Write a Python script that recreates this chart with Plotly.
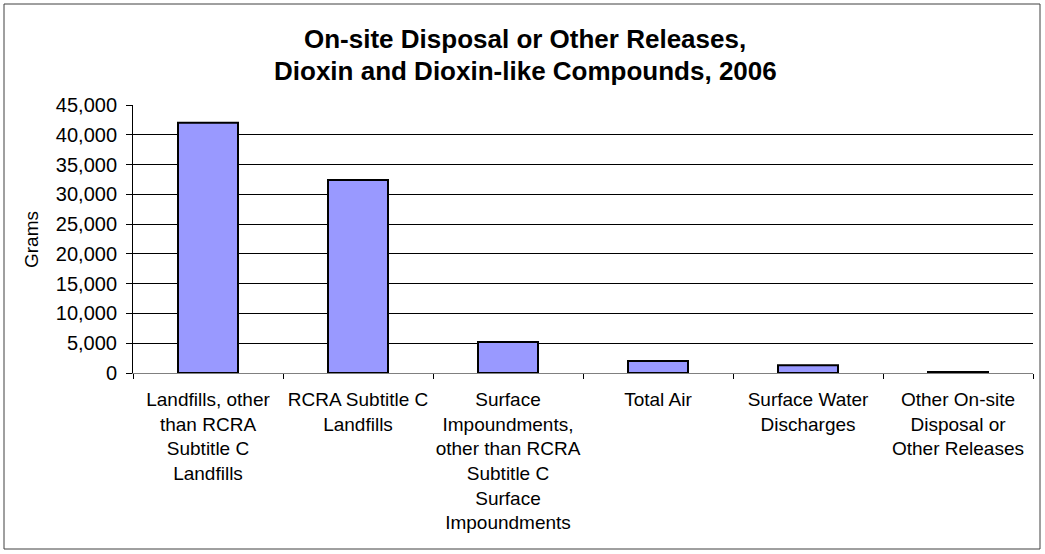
import plotly.graph_objects as go

categories = [
    "Landfills, other<br>than RCRA<br>Subtitle C<br>Landfills",
    "RCRA Subtitle C<br>Landfills",
    "Surface<br>Impoundments,<br>other than RCRA<br>Subtitle C<br>Surface<br>Impoundments",
    "Total Air",
    "Surface Water<br>Discharges",
    "Other On-site<br>Disposal or<br>Other Releases",
]
grams = [42000, 32400, 5200, 2000, 1300, 150]
title_lines = ["On-site Disposal or Other Releases,", "Dioxin and Dioxin-like Compounds, 2006"]
y_title = "Grams"
y_ticks = list(range(0, 45001, 5000))

W, H = 1045, 554
L, R, T, B = 133, 12, 105, 181
pw, ph = W - L - R, H - T - B

def px_x(p):
    return (p - L) / pw

def px_y(p):
    return (H - B - p) / ph

FONT = "Liberation Sans, Arial, sans-serif"

fig = go.Figure(
    go.Bar(
        x=categories,
        y=grams,
        width=0.4,
        marker=dict(color="#9999FF", line=dict(color="#000000", width=2)),
    )
)

fig.update_layout(
    width=W,
    height=H,
    margin=dict(l=L, r=R, t=T, b=B),
    paper_bgcolor="white",
    plot_bgcolor="white",
    showlegend=False,
    font=dict(family=FONT, size=18, color="#000000"),
)

fig.update_xaxes(
    showline=True,
    linecolor="#808080",
    linewidth=1,
    ticks="outside",
    tickson="boundaries",
    ticklen=5,
    tickcolor="#000000",
    tickfont=dict(size=19),
    tickangle=0,
    automargin=False,
    ticklabelstandoff=9,
    showgrid=False,
)
fig.update_yaxes(
    range=[0, 45000],
    tickvals=y_ticks,
    tickformat=",",
    showline=True,
    linecolor="#000000",
    linewidth=1,
    ticks="outside",
    ticklen=6,
    tickcolor="#000000",
    tickfont=dict(size=20),
    automargin=False,
    ticklabelstandoff=5,
    showgrid=True,
    gridcolor="#000000",
    gridwidth=1,
    zeroline=False,
)

annotations = [
    dict(text=f"<b>{title_lines[0]}</b>", x=px_x(525), y=px_y(39), xref="paper", yref="paper",
         showarrow=False, xanchor="center", yanchor="middle", font=dict(size=26, family=FONT)),
    dict(text=f"<b>{title_lines[1]}</b>", x=px_x(525), y=px_y(71), xref="paper", yref="paper",
         showarrow=False, xanchor="center", yanchor="middle", font=dict(size=26, family=FONT)),
    dict(text=y_title, x=px_x(31), y=px_y(240), xref="paper", yref="paper", textangle=-90,
         showarrow=False, xanchor="center", yanchor="middle", font=dict(size=19, family=FONT)),
]
fig.update_layout(annotations=annotations)

fig.add_shape(
    type="rect", xref="paper", yref="paper",
    x0=px_x(4), x1=px_x(1040), y0=px_y(549), y1=px_y(4),
    line=dict(color="#404040", width=1), fillcolor="rgba(0,0,0,0)", layer="below",
)

fig.write_html(
    "out.html",
    config={"displayModeBar": False},
    post_script="document.body.style.margin='0px';",
)
